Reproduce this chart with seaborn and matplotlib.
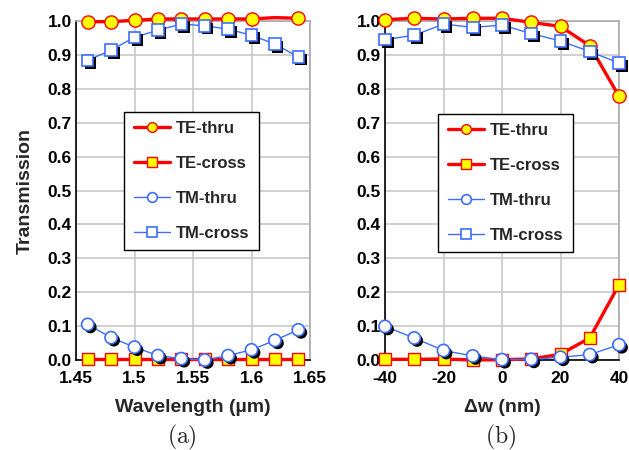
import matplotlib
matplotlib.use("Agg")
import matplotlib.pyplot as plt
import matplotlib.patheffects as pe
from matplotlib.lines import Line2D
import seaborn as sns

# ---------------- data ----------------
series_names = ["TE-thru", "TE-cross", "TM-thru", "TM-cross"]

wavelength = [1.46, 1.48, 1.50, 1.52, 1.54, 1.56, 1.58, 1.60, 1.62, 1.64]
a_te_thru = [0.998, 0.998, 1.002, 1.006, 1.006, 1.006, 1.006, 1.006, 1.010, 1.008]
a_te_cross = [0.002, 0.002, 0.002, 0.002, 0.002, 0.002, 0.002, 0.002, 0.002, 0.002]
a_tm_thru = [0.105, 0.066, 0.038, 0.013, 0.004, 0.000, 0.013, 0.030, 0.058, 0.089]
a_tm_cross = [0.884, 0.914, 0.952, 0.973, 0.991, 0.986, 0.976, 0.958, 0.932, 0.894]
a_te_thru_marked = [0, 1, 2, 3, 4, 5, 6, 7, 9]

dw = [-40, -30, -20, -10, 0, 10, 20, 30, 40]
b_te_thru = [1.004, 1.008, 1.006, 1.008, 1.008, 0.996, 0.984, 0.927, 0.778]
b_te_cross = [0.002, 0.002, 0.003, 0.000, 0.001, 0.003, 0.017, 0.065, 0.222]
b_tm_thru = [0.099, 0.065, 0.028, 0.012, 0.001, 0.002, 0.008, 0.016, 0.045]
b_tm_cross = [0.945, 0.958, 0.991, 0.981, 0.988, 0.963, 0.941, 0.910, 0.876]

a_xticks = [1.45, 1.5, 1.55, 1.6, 1.65]
a_xticklabels = ["1.45", "1.5", "1.55", "1.6", "1.65"]
b_xticks = [-40, -20, 0, 20, 40]
b_xticklabels = ["-40", "-20", "0", "20", "40"]
yticks = [0.0, 0.1, 0.2, 0.3, 0.4, 0.5, 0.6, 0.7, 0.8, 0.9, 1.0]
yticklabels = ["0.0", "0.1", "0.2", "0.3", "0.4", "0.5", "0.6", "0.7", "0.8", "0.9", "1.0"]

# ---------------- style ----------------
sns.set_style("white")
plt.rcParams["font.family"] = ["Liberation Sans", "DejaVu Sans"]
plt.rcParams["font.weight"] = "bold"
plt.rcParams["axes.labelweight"] = "bold"
plt.rcParams["mathtext.fontset"] = "cm"

RED = "#ff0000"
YEL = "#ffff00"
BLUE = "#3d6dff"
GRID = "#c8c8c8"

fig = plt.figure(figsize=(6.29, 4.5), dpi=100)
W, H = 629, 450
ax1 = fig.add_axes([76 / W, 1 - 360 / H, 234 / W, 339 / H])
ax2 = fig.add_axes([385 / W, 1 - 360 / H, 234 / W, 339 / H])

shadow = [pe.SimplePatchShadow(offset=(2.0, -2.0), shadow_rgbFace="black", alpha=1.0), pe.Normal()]


def panel(ax, x, te_thru, te_cross, tm_thru, tm_cross, te_mark=None):
    common = dict(ax=ax, errorbar=None, sort=False, clip_on=False)
    sns.lineplot(x=x, y=te_cross, color=RED, lw=2.4, marker="s", ms=8.5,
                 mfc=YEL, mec=RED, mew=1.0, zorder=3, **common)
    kw = {}
    if te_mark is not None:
        kw["markevery"] = te_mark
    sns.lineplot(x=x, y=te_thru, color=RED, lw=2.4, marker="o", ms=9.5,
                 mfc=YEL, mec=RED, mew=1.0, zorder=3, **common, **kw)
    # TM lines
    sns.lineplot(x=x, y=tm_thru, color=BLUE, lw=1.0, zorder=4, **common)
    sns.lineplot(x=x, y=tm_cross, color=BLUE, lw=1.0, zorder=4, **common)
    # TM markers with black drop shadow
    sns.lineplot(x=x, y=tm_thru, color=BLUE, linestyle="none", marker="o", ms=8.8,
                 mfc="white", mec=BLUE, mew=1.2, path_effects=shadow, zorder=5, **common)
    sns.lineplot(x=x, y=tm_cross, color=BLUE, linestyle="none", marker="s", ms=8.3,
                 mfc="white", mec=BLUE, mew=1.2, path_effects=shadow, zorder=5, **common)

    ax.set_ylim(0, 1.0)
    ax.set_yticks(yticks)
    ax.set_yticklabels(yticklabels)
    ax.grid(True, color=GRID, lw=1.2)
    ax.set_axisbelow(True)
    for s in ["top", "right"]:
        ax.spines[s].set_color("#aaaaaa")
        ax.spines[s].set_linewidth(1.2)
    for s in ["left", "bottom"]:
        ax.spines[s].set_color("black")
        ax.spines[s].set_linewidth(1.2)
    ax.tick_params(axis="both", direction="in", length=4, width=1, labelsize=12.5,
                   colors="black")
    ax.tick_params(axis="x", pad=8)
    ax.tick_params(axis="y", pad=3)

    handles = [
        Line2D([], [], color=RED, lw=2.4, marker="o", ms=7, mfc=YEL, mec=RED, mew=1.0),
        Line2D([], [], color=RED, lw=2.4, marker="s", ms=7, mfc=YEL, mec=RED, mew=1.0),
        Line2D([], [], color=BLUE, lw=1.0, marker="o", ms=7, mfc="white", mec=BLUE, mew=1.2),
        Line2D([], [], color=BLUE, lw=1.0, marker="s", ms=7, mfc="white", mec=BLUE, mew=1.2),
    ]
    return handles


legend_kw = dict(loc="center", fontsize=12, frameon=True, fancybox=False,
                 edgecolor="black", framealpha=1, handlelength=2.2,
                 handletextpad=0.35, labelspacing=1.2, borderpad=0.55)

h = panel(ax1, wavelength, a_te_thru, a_te_cross, a_tm_thru, a_tm_cross, a_te_thru_marked)
ax1.set_xlim(1.45, 1.65)
ax1.set_xticks(a_xticks)
ax1.set_xticklabels(a_xticklabels)
ax1.set_xlabel("Wavelength (µm)", fontsize=14, labelpad=9)
ax1.set_ylabel("Transmission", fontsize=14, labelpad=10)
leg1 = ax1.legend(h, series_names, bbox_to_anchor=(0.494, 0.528), **legend_kw)
leg1.get_frame().set_linewidth(1.0)

h = panel(ax2, dw, b_te_thru, b_te_cross, b_tm_thru, b_tm_cross)
ax2.set_xlim(-40, 40)
ax2.set_xticks(b_xticks)
ax2.set_xticklabels(b_xticklabels)
ax2.set_xlabel("Δw (nm)", fontsize=14, labelpad=9)
ax2.set_ylabel("")
leg2 = ax2.legend(h, series_names, bbox_to_anchor=(0.515, 0.522), **legend_kw)
leg2.get_frame().set_linewidth(1.0)

fig.text(182 / W, 1 - 437 / H, r"$\mathrm{(a)}$", ha="center", va="center", fontsize=17)
fig.text(501 / W, 1 - 437 / H, r"$\mathrm{(b)}$", ha="center", va="center", fontsize=17)

fig.savefig("out.png", dpi=100)
